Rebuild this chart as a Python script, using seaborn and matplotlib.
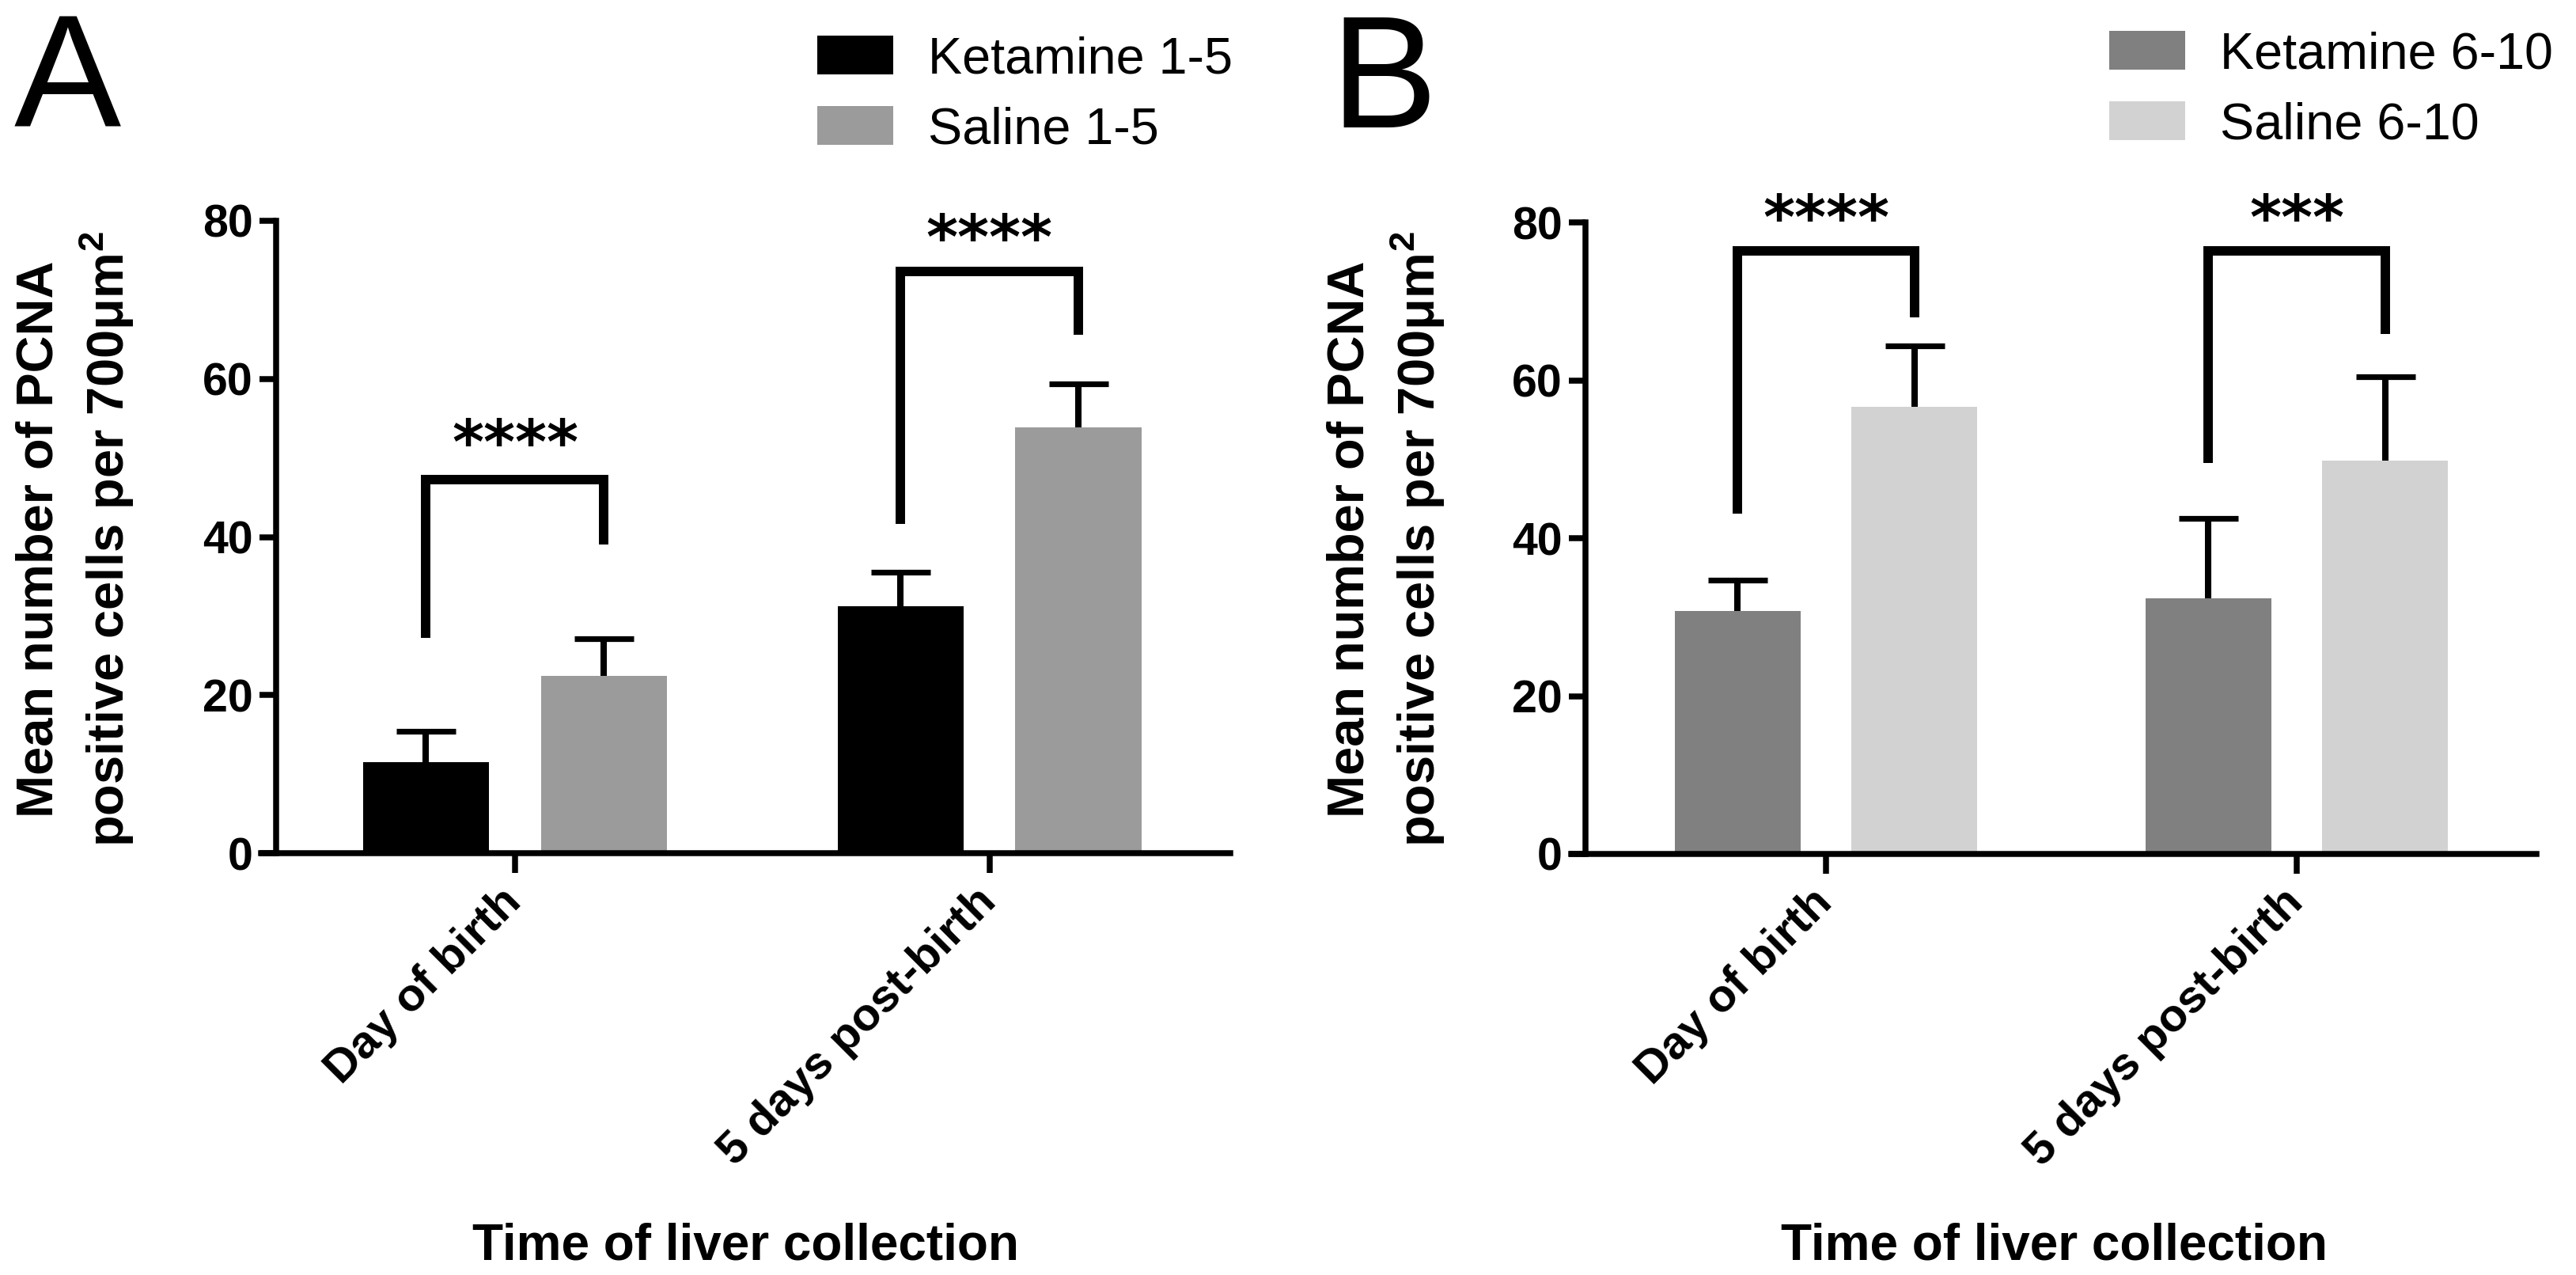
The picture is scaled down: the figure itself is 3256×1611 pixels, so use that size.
import matplotlib
matplotlib.use("Agg")
import matplotlib.pyplot as plt
import seaborn as sns
import pandas as pd
import numpy as np

# ---------------- data ----------------
time_points = ["Day of birth", "5 days post-birth"]
groups_a = ["Ketamine 1-5", "Saline 1-5"]
groups_b = ["Ketamine 6-10", "Saline 6-10"]

ket_1_5_mean = [11.5, 31.2]
ket_1_5_err = [3.9, 4.3]
sal_1_5_mean = [22.4, 53.9]
sal_1_5_err = [4.7, 5.5]

ket_6_10_mean = [30.8, 32.4]
ket_6_10_err = [3.9, 10.1]
sal_6_10_mean = [56.6, 49.8]
sal_6_10_err = [7.8, 10.7]

colors_a = ["#000000", "#9b9b9b"]
colors_b = ["#808080", "#d2d2d2"]

# significance brackets: left-leg bottom, top, right-leg bottom, star y, label
sig_a = [(27.2, 47.3, 39.0, 51.5, "****"), (41.7, 73.6, 65.6, 77.4, "****")]
sig_b = [(43.1, 76.4, 68.0, 80.1, "****"), (49.5, 76.4, 65.9, 80.1, "***")]

y_ticks = [0, 20, 40, 60, 80]
y_label = "Mean number of PCNA\npositive cells per 700μm$^{\\mathbf{2}}$"
x_label = "Time of liver collection"

# ---------------- style ----------------
sns.set_theme(style="ticks")
plt.rcParams["font.family"] = ["Liberation Sans", "DejaVu Sans"]
plt.rcParams["mathtext.fontset"] = "custom"
plt.rcParams["mathtext.rm"] = "Liberation Sans"
plt.rcParams["mathtext.bf"] = "Liberation Sans:bold"
plt.rcParams["axes.linewidth"] = 2.7
for key in ("text.color", "axes.labelcolor", "xtick.color", "ytick.color",
            "axes.edgecolor"):
    plt.rcParams[key] = "black"

W, H = 3256, 1611
DPI = 200
fig = plt.figure(figsize=(W / DPI, H / DPI), dpi=DPI)


def px_rect(x0, x1, ytop, ybot):
    return [x0 / W, 1 - ybot / H, (x1 - x0) / W, (ybot - ytop) / H]


def draw_panel(ax, groups, means, errs, colors, sig, spine_x, xlim,
               leg_xy, letter, letter_xy, ylab_xy):
    df = pd.DataFrame({
        "time": time_points * 2,
        "group": [g for g in groups for _ in time_points],
        "mean": means[0] + means[1],
    })
    sns.barplot(data=df, x="time", y="mean", hue="group", order=time_points,
                hue_order=groups, palette=colors, width=0.75, gap=0.29,
                errorbar=None, saturation=1, edgecolor="none", ax=ax, zorder=2)
    centers = []
    for cont in list(ax.containers)[:2]:
        centers.append([p.get_x() + p.get_width() / 2 for p in cont])
    for i in range(2):
        eb = ax.errorbar(centers[i], means[i],
                         yerr=[np.zeros(len(errs[i])), errs[i]],
                         fmt="none", ecolor="black", elinewidth=2.9,
                         capsize=13.5, capthick=2.6, zorder=3)
        # only the upper cap is shown
        for cap in eb.lines[1]:
            if np.allclose(cap.get_ydata(), means[i]):
                cap.set_visible(False)
    for j, (lb, top, rb, ys, lab) in enumerate(sig):
        xl, xr = centers[0][j], centers[1][j]
        ax.plot([xl, xl, xr, xr], [lb, top, top, rb], color="black", lw=4.3,
                solid_joinstyle="miter", solid_capstyle="butt", clip_on=False,
                zorder=4)
        ax.text((xl + xr) / 2, ys, lab, ha="center", va="center", fontsize=27.5,
                fontweight="bold", family="DejaVu Sans", clip_on=False)

    ax.set_xlim(*xlim)
    ax.set_ylim(0, 80)
    ax.set_yticks(y_ticks)
    ax.spines["left"].set_position(("data", spine_x))
    ax.spines[["top", "right"]].set_visible(False)
    for s in ("left", "bottom"):
        ax.spines[s].set_linewidth(2.7)
        ax.spines[s].set_color("black")
    ax.tick_params(axis="y", length=7.5, width=2.7, labelsize=20.6, pad=3,
                   colors="black")
    ax.tick_params(axis="x", length=9, width=2.7, labelsize=21, pad=10,
                   colors="black")
    ax.set_xticks(range(len(time_points)))
    ax.set_xticklabels(time_points, rotation=45, ha="right", va="center",
                       rotation_mode="anchor", fontweight="bold")
    for t in ax.get_yticklabels():
        t.set_fontweight("bold")
    ax.set_xlabel("")
    ax.set_ylabel("")

    handles, labels = ax.get_legend_handles_labels()
    ax.legend(handles, labels, loc="upper left",
              bbox_to_anchor=(leg_xy[0] / W, 1 - leg_xy[1] / H),
              bbox_transform=fig.transFigure, frameon=False, fontsize=23.3,
              borderpad=0, borderaxespad=0, handlelength=1.48,
              handleheight=0.79, handletextpad=0.68, labelspacing=0.45)

    bb = ax.get_position()
    fig.text(bb.x0 + bb.width / 2, 1 - 1575 / H, x_label, ha="center",
             va="center", fontsize=23, fontweight="bold")
    fig.text(ylab_xy[0] / W, 1 - ylab_xy[1] / H, y_label, rotation=90,
             ha="center", va="center", fontsize=23.4, fontweight="bold",
             multialignment="center", linespacing=1.3)
    fig.text(letter_xy[0] / W, 1 - letter_xy[1] / H, letter, ha="left",
             va="baseline", fontsize=73)


ax_a = fig.add_axes(px_rect(330, 1555, 279, 1078))
ax_b = fig.add_axes(px_rect(1986, 3206, 281, 1079))

draw_panel(ax_a, groups_a, [ket_1_5_mean, sal_1_5_mean], [ket_1_5_err, sal_1_5_err],
           colors_a, sig_a, -0.503, (-0.535, 1.507), (1033, 45), "A", (18, 161),
           (96, 681))
draw_panel(ax_b, groups_b, [ket_6_10_mean, sal_6_10_mean],
           [ket_6_10_err, sal_6_10_err], colors_b, sig_b, -0.511,
           (-0.541, 1.509), (2666, 39), "B", (1681, 161), (1753, 681))

fig.savefig("out.png", dpi=DPI, facecolor="white")
